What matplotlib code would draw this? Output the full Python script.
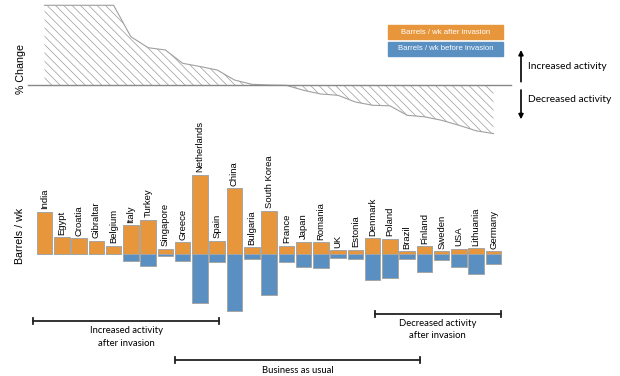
import matplotlib.pyplot as plt
import numpy as np

plt.rcParams['font.family'] = ['Liberation Sans', 'DejaVu Sans']
plt.rcParams['hatch.linewidth'] = 0.5

# data (arbitrary units - the chart has no tick labels)
countries = ['India', 'Egypt', 'Croatia', 'Gibraltar', 'Belgium', 'Italy', 'Turkey',
             'Singapore', 'Greece', 'Netherlands', 'Spain', 'China', 'Bulgaria',
             'South Korea', 'France', 'Japan', 'Romania', 'UK', 'Estonia', 'Denmark',
             'Poland', 'Brazil', 'Finland', 'Sweden', 'USA', 'Lithuania', 'Germany']
after_invasion = [42, 16.7, 15.7, 13, 8, 28.7, 34, 5, 11.7, 79, 13, 65.7, 6.7,
                  43, 8, 12.3, 11.7, 3.7, 4, 15.7, 15, 2.7, 7.7, 2.7, 5.3, 5.7, 2.7]
before_invasion = [0, 0, 0, 0, 0, 6.7, 11.7, 2, 6.7, 49.3, 8.3, 56.7, 5.3,
                   41.3, 7.7, 13.3, 14.3, 4.3, 5.3, 25.7, 23.7, 5.3, 17.7, 6.3, 13, 19.7, 9.7]
# % change, capped at the top for countries with no traffic before
pct_change = [80, 80, 80, 80, 80, 48.6, 37.6, 35.3, 22, 18.8, 15.3, 5.3, 1,
              0.3, 0, -5, -8.7, -10, -16.7, -20, -20.5, -30, -31.5, -35, -40, -45.5, -48.3]

orange = '#e8963b'
blue = '#5a8fc2'

W, H = 620, 376
fig = plt.figure(figsize=(W / 100, H / 100), dpi=100)

# bar positions: centre of first bar at 44.5 px, pitch 17.27 px
x = np.arange(len(countries))
x0 = -44.5 / 17.27
x1 = (W - 44.5) / 17.27

# --- top panel: % change area ---
ax_top = fig.add_axes([0, 1 - 150 / H, 1, 150 / H])
ax_top.set_xlim(x0, x1)
ax_top.set_ylim(-64.7, 85.3)
ax_top.fill_between(x, 0, pct_change, facecolor='none', edgecolor='#9a9a9a',
                    hatch='\\\\\\\\', linewidth=0)
ax_top.plot(x, pct_change, color='#a0a0a0', lw=0.8)
ax_top.plot([(27.7 - 44.5) / 17.27, (510.7 - 44.5) / 17.27], [0, 0], color='#888888', lw=1)
ax_top.axis('off')

# --- bottom panel: barrels / wk ---
ax_bar = fig.add_axes([0, 0, 1, 226 / H])
ax_bar.set_xlim(x0, x1)
ax_bar.set_ylim(-122, 104)
ax_bar.bar(x, after_invasion, width=0.9, color=orange, edgecolor='#a5a5a5', lw=0.7)
ax_bar.bar(x, [-v for v in before_invasion], width=0.9, color=blue, edgecolor='#a5a5a5', lw=0.7)
for i, name in enumerate(countries):
    ax_bar.annotate(name, (i, after_invasion[i]), xytext=(0, 2), textcoords='offset points',
                    rotation=90, ha='center', va='bottom', fontsize=6.8)
ax_bar.axis('off')

# --- overlay in pixel coordinates for the notes ---
ov = fig.add_axes([0, 0, 1, 1], zorder=-1)
ov.set_xlim(0, W)
ov.set_ylim(H, 0)
ov.axis('off')

ov.text(20.7, 68.8, '% Change', rotation=90, ha='center', va='center', fontsize=7.7)
ov.text(20, 236, 'Barrels / wk', rotation=90, ha='center', va='center', fontsize=7.7)

# legend boxes
ov.add_patch(plt.Rectangle((388.3, 25), 115, 14, color=orange))
ov.add_patch(plt.Rectangle((388.3, 42.3), 115, 13.4, color=blue))
ov.text(445.8, 32, 'Barrels / wk after invasion', color='white', ha='center', va='center', fontsize=5.6)
ov.text(445.8, 49, 'Barrels / wk before invasion', color='white', ha='center', va='center', fontsize=5.6)

# arrows on the right
ov.annotate('', xy=(521, 50), xytext=(521, 81.7),
            arrowprops=dict(arrowstyle='-|>', lw=1.2, color='black', mutation_scale=7,
                            shrinkA=0, shrinkB=0))
ov.annotate('', xy=(521, 119.3), xytext=(521, 90),
            arrowprops=dict(arrowstyle='-|>', lw=1.2, color='black', mutation_scale=7,
                            shrinkA=0, shrinkB=0))
ov.text(527.7, 66.7, 'Increased activity', ha='left', va='center', fontsize=7.4, family='Lato')
ov.text(527.7, 100, 'Decreased activity', ha='left', va='center', fontsize=7.4, family='Lato')


def bracket(xa, xb, y, label, ly):
    ov.plot([xa, xb], [y, y], color='#222222', lw=1.3)
    ov.plot([xa, xa], [y - 3, y + 3], color='#222222', lw=1.3)
    ov.plot([xb, xb], [y - 3, y + 3], color='#222222', lw=1.3)
    ov.text((xa + xb) / 2, ly, label, ha='center', va='center', fontsize=6.8,
            family='Lato', linespacing=1.45)


bracket(33.3, 219.3, 321.3, 'Increased activity\nafter invasion', 337)
bracket(175, 420, 360, 'Business as usual', 370.7)
bracket(374.5, 500.5, 314.3, 'Decreased activity\nafter invasion', 329.7)

fig.savefig('out.png', dpi=100)
